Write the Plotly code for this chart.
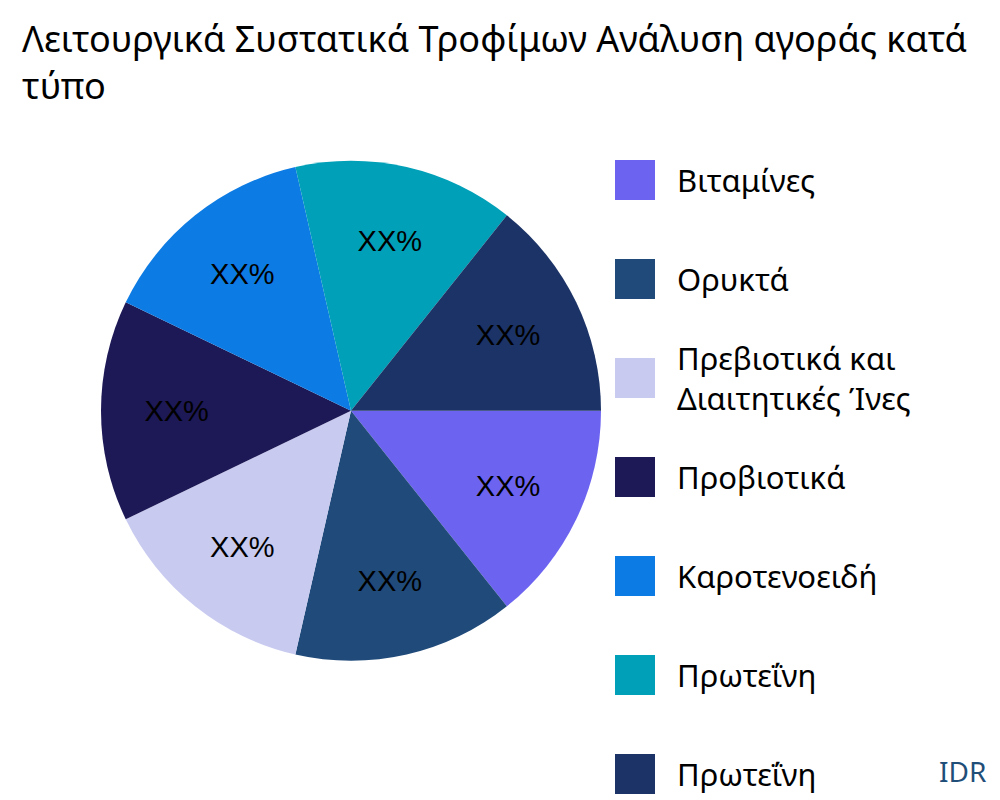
import plotly.graph_objects as go

labels = ["Βιταμίνες", "Ορυκτά", "Πρεβιοτικά και<br>Διαιτητικές Ίνες", "Προβιοτικά",
          "Καροτενοειδή", "Πρωτεΐνη", "Πρωτεΐνη "]
values = [1, 1, 1, 1, 1, 1, 1]
colors = ["#6c63f0", "#1f4a7a", "#c8caf0", "#1d1856", "#0c7be3", "#00a0b8", "#1b3366"]

fig = go.Figure(go.Pie(
    labels=labels, values=values, sort=False, direction="clockwise", rotation=90,
    marker=dict(colors=colors), texttemplate="XX%", textposition="inside",
    insidetextorientation="horizontal", showlegend=False,
    textfont=dict(size=29, color="black", family="Liberation Sans"),
    domain=dict(x=[0.093, 0.593], y=[0.184, 0.809]),
))

# legend drawn by hand to get the wide spacing of the original
shapes, annotations = [], []
for i, (lab, col) in enumerate(zip(labels, colors)):
    yc = 1 - (172 + 99 * i) / 800
    shapes.append(dict(type="rect", xref="paper", yref="paper",
                       x0=0.607, x1=0.647, y0=yc - 0.025, y1=yc + 0.025,
                       fillcolor=col, line=dict(width=0)))
    annotations.append(dict(text=lab.strip(), x=0.667, y=yc, xref="paper", yref="paper",
                            xanchor="left", yanchor="middle", align="left",
                            showarrow=False, font=dict(size=31, color="black")))
annotations.append(dict(text="IDR", x=0.98, y=0.02, xref="paper", yref="paper",
                        xanchor="right", yanchor="bottom", showarrow=False,
                        font=dict(size=28, color="#1f4e79")))

fig.update_layout(
    width=1000, height=800,
    margin=dict(l=0, r=0, t=0, b=0),
    paper_bgcolor="white",
    font=dict(family="Noto Sans"),
    title=dict(text="Λειτουργικά Συστατικά Τροφίμων Ανάλυση αγοράς κατά<br>τύπο",
               x=0.014, xanchor="left", y=0.945, yanchor="top",
               font=dict(size=36, color="black")),
    shapes=shapes, annotations=annotations,
)
fig.write_html("out.html")
